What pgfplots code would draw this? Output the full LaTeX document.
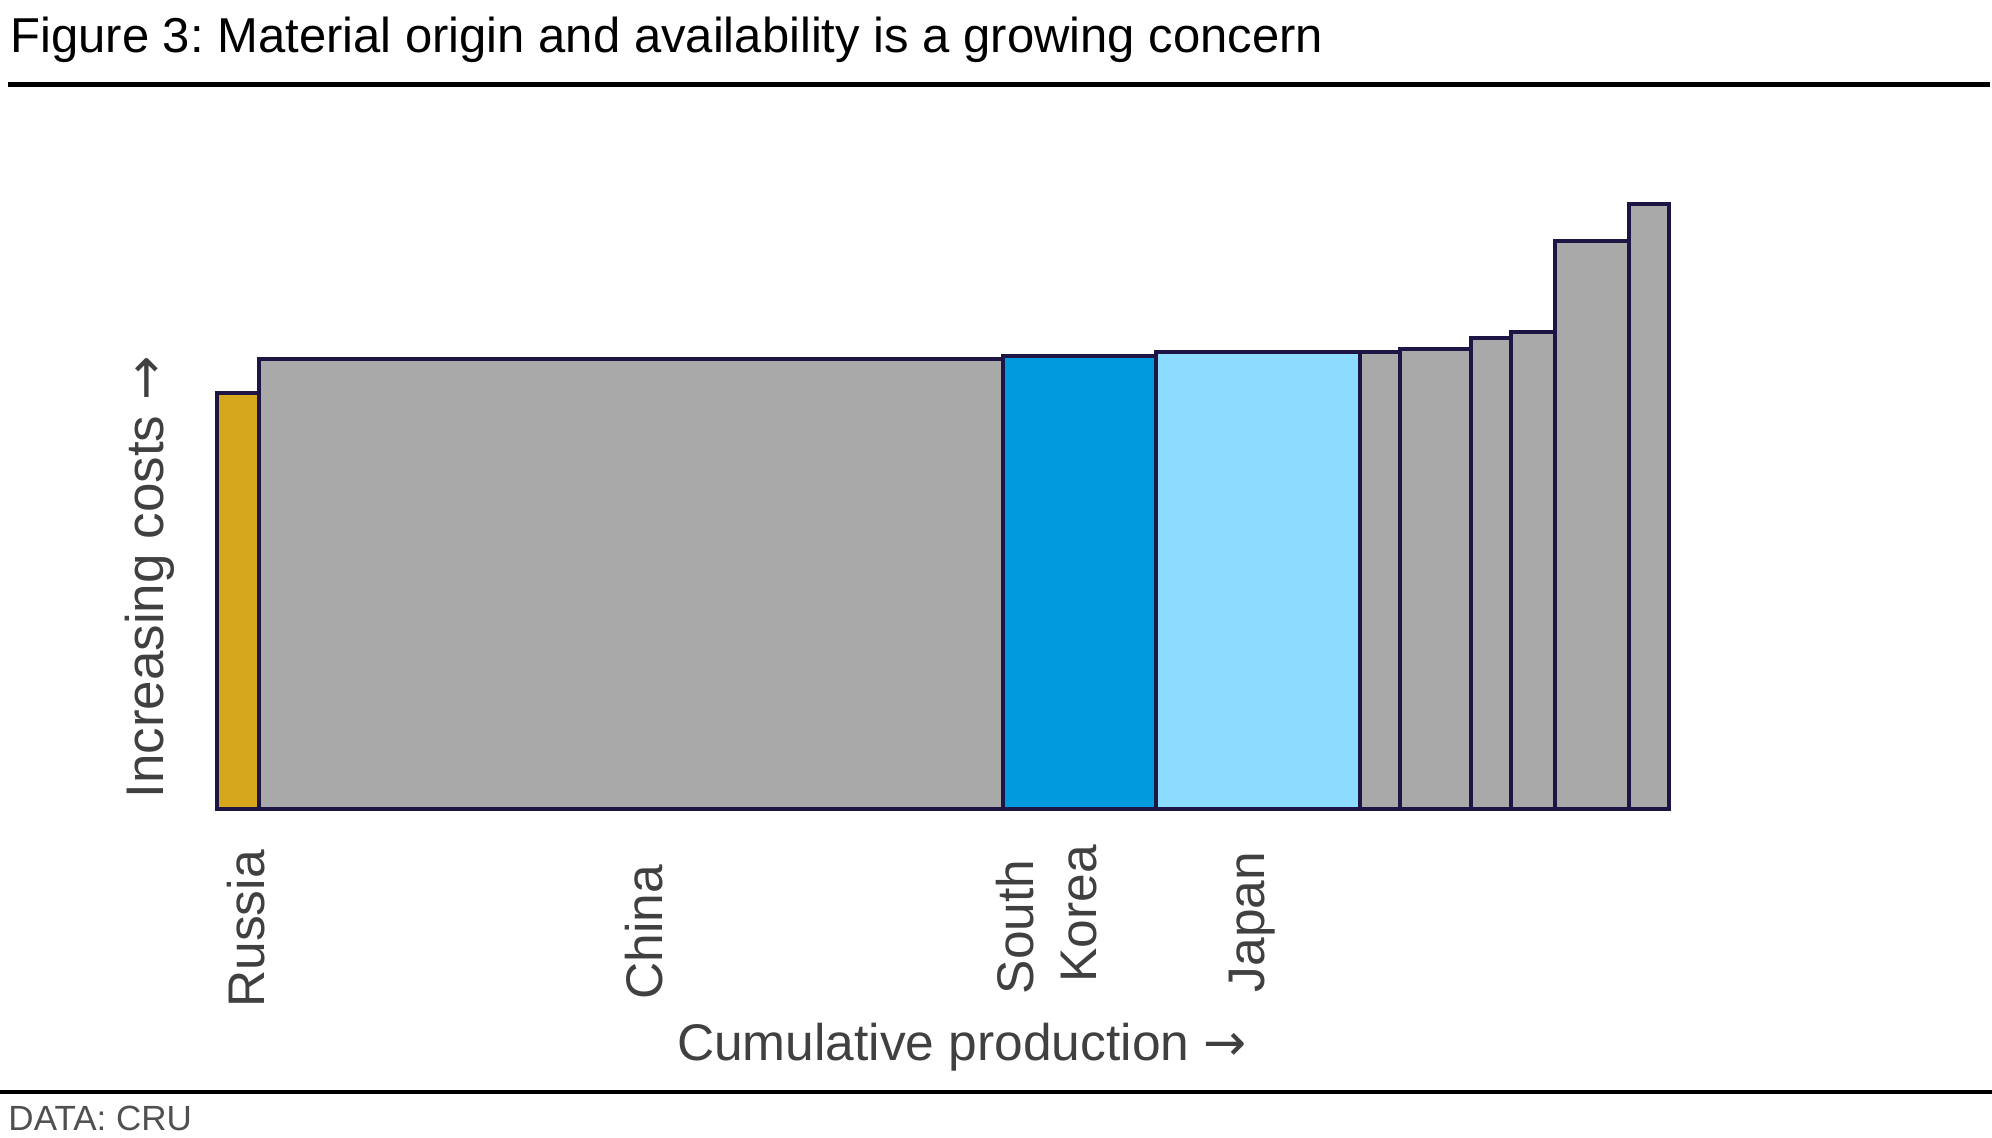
\documentclass[border=0pt]{standalone}
\usepackage{pgfplots}
\pgfplotsset{compat=1.18}
\usepackage{fontspec}
\setmainfont{Liberation Sans}
\newfontfamily\arrowfont{DejaVu Sans}
\frenchspacing
\definecolor{edge}{HTML}{1E1545}
\definecolor{gold}{HTML}{D6A71A}
\definecolor{grayfill}{HTML}{A9A9A9}
\definecolor{skblue}{HTML}{009ADE}
\definecolor{jplight}{HTML}{8CDCFF}
\definecolor{lbl}{HTML}{404040}
\definecolor{src}{HTML}{505050}
\begin{document}
\begin{tikzpicture}
\useasboundingbox (0pt,0pt) rectangle (796.8pt,-454.8pt);
% title and rules
\node[anchor=base west,inner sep=0pt,font=\fontsize{19.6pt}{22pt}\selectfont] at (4pt,-21.2pt) {Figure 3: Material origin and availability is a growing concern};
\draw[line width=2pt,black] (3.2pt,-33.8pt) -- (796pt,-33.8pt);
\draw[line width=1.4pt,black] (0pt,-436.8pt) -- (796.8pt,-436.8pt);
\node[anchor=base west,inner sep=0pt,text=src,font=\fontsize{14pt}{16pt}\selectfont] at (3.2pt,-452pt) {DATA: CRU};
\begin{axis}[
  scale only axis,
  width=580.8pt, height=242pt,
  at={(86.8pt,-323.6pt)}, anchor=south west,
  xmin=217, xmax=1669, ymin=0, ymax=605,
  axis lines=none, xtick=\empty, ytick=\empty, clip=false,
  every axis plot/.append style={line width=1.5pt, draw=edge},
]
\addplot[ybar interval, fill=gold] coordinates {(217,416) (259,416)};
\addplot[ybar interval, fill=grayfill] coordinates {(259,450) (1003,450)};
\addplot[ybar interval, fill=skblue] coordinates {(1003,453) (1156,453)};
\addplot[ybar interval, fill=jplight] coordinates {(1156,457) (1360,457)};
\addplot[ybar interval, fill=grayfill] coordinates {
 (1360,457) (1400,460) (1471,471) (1511,477) (1555,568) (1629,605) (1669,605)};
\end{axis}
% category labels
\begin{scope}[every node/.style={rotate=90,inner sep=0pt,text=lbl,font=\fontsize{20.6pt}{22pt}\selectfont}]
\node at (98.24pt,-371.6pt) {Russia};
\node at (257.6pt,-372.8pt) {China};
\node at (406pt,-370.8pt) {South};
\node at (431.6pt,-365.6pt) {Korea};
\node at (500.8pt,-368.8pt) {Japan};
\node[anchor=base,font=\fontsize{21.2pt}{22pt}\selectfont] at (65.2pt,-231pt) {Increasing costs {\arrowfont →}};
\end{scope}
\node[anchor=base,inner sep=0pt,text=lbl,font=\fontsize{20.6pt}{22pt}\selectfont] at (384.8pt,-424pt) {Cumulative production {\arrowfont →}};
\end{tikzpicture}
\end{document}
